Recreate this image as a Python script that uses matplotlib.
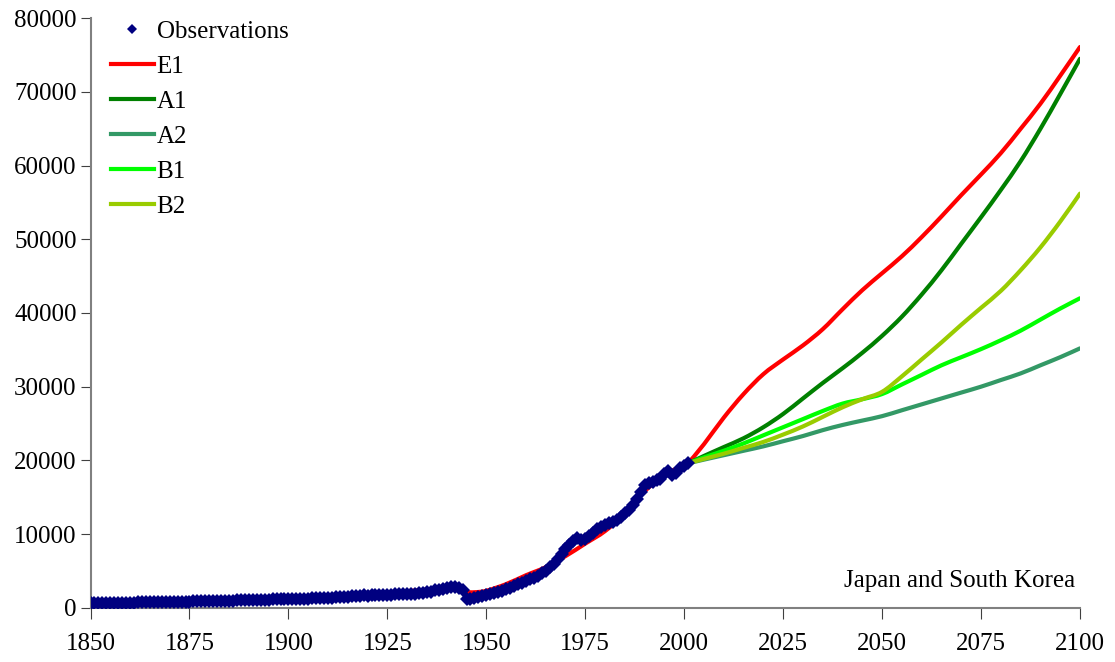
import matplotlib
matplotlib.use("Agg")
import matplotlib.pyplot as plt
from matplotlib.path import Path
from matplotlib.patches import PathPatch
from matplotlib.lines import Line2D

plt.rcParams['font.family'] = ['Liberation Serif', 'DejaVu Serif']

# Observed series, one value per year 1850-2001
obs_years = list(range(1850, 2002))
obs_values = [
    620, 630, 640, 640, 650, 660, 660, 670, 680, 690,
    700, 700, 710, 720, 730, 740, 750, 760, 770, 780,
    790, 800, 810, 820, 830, 840, 850, 860, 870, 880,
    890, 900, 920, 930, 940, 950, 970, 980, 1000, 1010,
    1030, 1040, 1060, 1070, 1090, 1100, 1120, 1130, 1150, 1160,
    1180, 1180, 1200, 1220, 1230, 1250, 1270, 1290, 1310, 1330,
    1350, 1380, 1400, 1430, 1400, 1450, 1550, 1620, 1650, 1700,
    1620, 1680, 1700, 1680, 1720, 1760, 1780, 1800, 1850, 1880,
    1830, 1820, 1880, 1980, 2050, 2100, 2200, 2350, 2450, 2600,
    2650, 2800, 2800, 2700, 2450, 1150, 1250, 1350, 1500, 1600,
    1700, 1850, 2000, 2150, 2300, 2500, 2700, 2950, 3200, 3400,
    3600, 3850, 4100, 4350, 4650, 5000, 5500, 6000, 6650, 7300,
    8000, 8500, 9000, 9500, 9200, 9300, 9700, 10200, 10700, 11000,
    11200, 11500, 11700, 11900, 12300, 12800, 13300, 13900, 14700, 15700,
    16600, 16900, 17000, 17300, 17500, 18100, 18500, 18000, 18300, 18900,
    19300, 19600,
]

# Historical model fit for E1
e1_hist_years = [1850, 1875, 1900, 1915, 1925, 1930, 1935, 1940, 1943, 1945, 1947,
                 1950, 1955, 1960, 1965, 1970, 1975, 1980, 1985, 1990, 1995, 2001]
e1_hist_values = [650, 900, 1350, 1650, 2000, 2250, 2450, 2700, 2600, 2150, 2100,
                  2300, 3200, 4400, 5500, 7000, 8700, 10400, 12800, 15800, 18000, 19600]

# Scenario projections
scen_years = [2001, 2005, 2010, 2015, 2020, 2025, 2030, 2035, 2040, 2045, 2050,
              2055, 2060, 2065, 2070, 2075, 2080, 2085, 2090, 2095, 2100]
e1_values = [19600, 22200, 25800, 29000, 31700, 33700, 35600, 37800, 40500, 43100, 45400,
             47700, 50300, 53100, 56000, 58800, 61700, 65000, 68400, 72200, 76100]
a1_values = [19600, 20600, 21800, 23000, 24500, 26300, 28400, 30500, 32500, 34600, 36900,
             39500, 42500, 45800, 49400, 53000, 56700, 60600, 65000, 69700, 74500]
a2_values = [19600, 20100, 20700, 21300, 21900, 22600, 23300, 24100, 24800, 25400, 26000,
             26800, 27600, 28400, 29200, 30000, 30900, 31800, 32900, 34000, 35200]
b1_values = [19600, 20400, 21300, 22300, 23400, 24500, 25600, 26700, 27700, 28300, 29000,
             30300, 31600, 32900, 34000, 35100, 36300, 37600, 39100, 40600, 42000]
b2_values = [19600, 20200, 20900, 21700, 22500, 23500, 24600, 25900, 27200, 28300, 29300,
             31400, 33700, 36000, 38400, 40700, 43000, 45800, 48900, 52400, 56200]

x_ticks = [1850, 1875, 1900, 1925, 1950, 1975, 2000, 2025, 2050, 2075, 2100]
y_ticks = [0, 10000, 20000, 30000, 40000, 50000, 60000, 70000, 80000]

LW = 3.0


def smooth_line(ax, xs, ys, color, zorder):
    # smoothed line like a spreadsheet chart: Catmull-Rom segments as cubic Beziers
    pts = list(zip(xs, ys))
    n = len(pts)
    verts = [pts[0]]
    codes = [Path.MOVETO]
    for i in range(n - 1):
        p0 = pts[i - 1] if i > 0 else pts[i]
        p1 = pts[i]
        p2 = pts[i + 1]
        p3 = pts[i + 2] if i + 2 < n else pts[i + 1]
        c1 = (p1[0] + (p2[0] - p0[0]) / 6, p1[1] + (p2[1] - p0[1]) / 6)
        c2 = (p2[0] - (p3[0] - p1[0]) / 6, p2[1] - (p3[1] - p1[1]) / 6)
        verts += [c1, c2, p2]
        codes += [Path.CURVE4] * 3
    patch = PathPatch(Path(verts, codes), facecolor='none', edgecolor=color,
                      lw=LW, capstyle='round', joinstyle='round', zorder=zorder)
    ax.add_patch(patch)
    return Line2D([], [], color=color, lw=LW)


fig = plt.figure(figsize=(11.15, 6.62), dpi=100)
ax = fig.add_axes([0.0812, 0.082, 0.8874, 0.8904])

smooth_line(ax, e1_hist_years, e1_hist_values, '#FF0000', 2)
h_e1 = smooth_line(ax, scen_years, e1_values, '#FF0000', 3)
h_a1 = smooth_line(ax, scen_years, a1_values, '#008000', 3)
h_a2 = smooth_line(ax, scen_years, a2_values, '#339966', 3)
h_b1 = smooth_line(ax, scen_years, b1_values, '#00FF00', 3)
h_b2 = smooth_line(ax, scen_years, b2_values, '#99CC00', 3)
h_obs, = ax.plot(obs_years, obs_values, linestyle='none', marker='D', markersize=7.5,
                 color='#000080', markeredgewidth=0, zorder=4)

ax.set_xlim(1850, 2100)
ax.set_ylim(0, 80000)
ax.set_xticks(x_ticks)
ax.set_yticks(y_ticks)
ax.tick_params(axis='both', labelsize=18, colors='black', direction='out')
ax.tick_params(axis='x', length=8, pad=10, color='#404040')
ax.tick_params(axis='y', length=7, pad=3, color='#404040')

for side in ['top', 'right']:
    ax.spines[side].set_visible(False)
for side in ['left', 'bottom']:
    ax.spines[side].set_color('#808080')
    ax.spines[side].set_linewidth(1.5)

ax.legend(handles=[h_obs, h_e1, h_a1, h_a2, h_b1, h_b2],
          labels=['Observations', 'E1', 'A1', 'A2', 'B1', 'B2'],
          loc='upper left', bbox_to_anchor=(-0.002, 1.035), frameon=False, fontsize=18,
          handlelength=1.7, handletextpad=0.12, labelspacing=0.5, markerscale=0.65)

ax.text(0.995, 0.027, 'Japan and South Korea', transform=ax.transAxes,
        ha='right', va='bottom', fontsize=18)

fig.savefig('out.png', dpi=100)
